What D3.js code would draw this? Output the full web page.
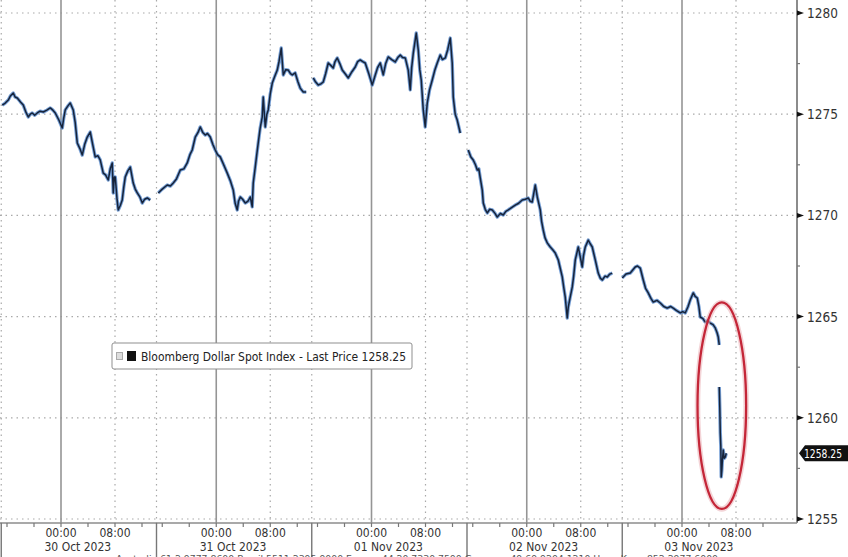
<!DOCTYPE html>
<html><head><meta charset="utf-8">
<script src="https://cdn.jsdelivr.net/npm/d3@7"></script>
<style>
html,body{margin:0;padding:0;background:#fff;}
svg{display:block;}
text{font-family:"Liberation Sans Narrow","DejaVu Sans Condensed","Arial Narrow",sans-serif;}
</style></head>
<body>
<svg id="chart" width="848" height="557"></svg>
<script>
// ---- DATA (x = trading hours since 30 Oct session start, 23h sessions; y = index level) ----
const s30Oct = [[0.30,1275.45],[0.74,1275.55],[1.19,1275.70],[1.5,1275.9],[1.93,1276.05],[2.2,1275.85],[2.52,1275.80],[3.0,1275.60],[3.41,1275.45],[3.8,1275.10],[4.15,1274.86],[4.45,1275.00],[4.74,1275.06],[5.1,1274.95],[5.48,1275.06],[5.9,1275.15],[6.37,1275.11],[6.9,1275.20],[7.41,1275.31],[7.8,1275.20],[8.15,1275.06],[8.7,1274.70],[9.19,1274.32],[9.4,1274.80],[9.63,1275.21],[10.0,1275.40],[10.37,1275.55],[10.81,1275.21],[11.1,1274.60],[11.41,1273.58],[11.8,1273.30],[12.15,1272.98],[12.5,1273.50],[12.89,1273.87],[13.33,1274.12],[13.7,1273.50],[14.07,1272.89],[14.45,1272.95],[14.81,1272.74],[15.26,1272.09],[15.6,1272.00],[16.00,1271.75],[16.3,1272.30],[16.59,1272.59],[16.74,1271.11],[16.9,1271.90],[17.04,1271.90],[17.3,1270.80],[17.48,1270.27],[17.8,1270.50],[18.07,1270.76],[18.3,1271.40],[18.52,1271.90],[18.9,1272.20],[19.26,1272.39],[19.70,1271.60],[20.0,1271.30],[20.30,1271.11],[20.7,1270.90],[21.04,1270.61],[21.4,1270.80],[21.78,1270.86],[22.22,1270.76]];
const s31Oct = [[23.41,1271.11],[24.0,1271.30],[24.74,1271.50],[25.2,1271.45],[25.63,1271.60],[26.1,1271.80],[26.67,1272.24],[27.2,1272.30],[27.70,1272.59],[28.1,1273.00],[28.44,1273.23],[28.89,1273.87],[29.3,1274.10],[29.63,1274.37],[30.0,1274.10],[30.37,1273.97],[30.7,1274.05],[31.11,1273.87],[31.5,1273.50],[31.85,1273.23],[32.2,1273.00],[32.59,1272.89],[33.1,1272.50],[33.63,1272.09],[34.1,1271.70],[34.52,1271.25],[34.8,1270.60],[35.11,1270.27],[35.3,1270.70],[35.56,1270.91],[35.9,1270.80],[36.30,1270.61],[36.7,1270.70],[37.04,1270.91],[37.33,1270.42],[37.48,1271.60],[37.78,1272.39],[38.0,1273.00],[38.22,1273.58],[38.5,1274.30],[38.81,1274.86],[38.96,1275.85],[39.26,1274.37],[39.5,1275.00],[39.70,1275.21],[40.0,1276.00],[40.30,1276.54],[40.7,1276.90],[41.04,1277.18],[41.3,1277.60],[41.63,1278.27],[41.93,1276.94],[42.3,1277.20],[42.67,1277.18],[43.0,1277.00],[43.26,1276.94],[43.70,1277.04],[44.1,1276.60],[44.44,1276.29],[44.89,1276.10],[45.33,1276.10]];
const s01Nov = [[46.37,1276.79],[46.7,1276.60],[47.11,1276.44],[47.5,1276.50],[47.85,1276.59],[48.2,1277.00],[48.59,1277.53],[49.0,1277.40],[49.33,1277.28],[49.6,1277.60],[49.93,1277.78],[50.3,1277.50],[50.67,1277.18],[51.1,1277.00],[51.56,1276.79],[52.1,1277.10],[52.59,1277.33],[52.95,1277.60],[53.33,1277.68],[53.7,1277.60],[54.07,1277.53],[54.6,1277.00],[55.11,1276.44],[55.56,1276.94],[55.9,1277.30],[56.30,1277.53],[56.74,1276.94],[57.1,1277.50],[57.48,1277.83],[58.0,1277.70],[58.52,1277.58],[58.9,1277.80],[59.26,1277.92],[59.6,1277.80],[60.00,1277.78],[60.44,1277.18],[60.74,1276.20],[60.95,1277.30],[61.19,1278.02],[61.63,1279.01],[61.93,1278.17],[62.15,1277.20],[62.37,1276.69],[62.67,1275.21],[62.96,1274.37],[63.26,1275.55],[63.6,1276.20],[64.00,1276.69],[64.4,1277.20],[64.74,1277.53],[65.19,1277.92],[65.5,1277.70],[65.93,1277.78],[66.3,1278.20],[66.67,1278.76],[66.96,1277.53],[67.11,1275.85],[67.4,1275.00],[67.70,1274.71],[68.15,1274.07]];
const s02Nov = [[69.33,1273.23],[69.7,1272.90],[70.07,1272.74],[70.4,1272.50],[70.67,1272.24],[70.9,1272.30],[71.11,1271.85],[71.41,1271.25],[71.56,1270.61],[71.85,1270.30],[72.15,1270.12],[72.5,1270.30],[72.89,1270.27],[73.3,1270.10],[73.63,1269.92],[74.1,1270.10],[74.52,1270.02],[74.9,1270.20],[75.26,1270.27],[75.8,1270.40],[76.30,1270.51],[76.8,1270.60],[77.33,1270.76],[77.8,1270.80],[78.22,1270.86],[78.5,1270.70],[78.81,1270.66],[79.26,1271.50],[79.56,1270.91],[80.00,1270.27],[80.2,1269.70],[80.44,1269.28],[80.7,1268.90],[81.04,1268.64],[81.48,1268.44],[81.85,1268.30],[82.22,1268.14],[82.67,1267.80],[82.95,1267.40],[83.26,1266.96],[83.5,1266.40],[83.70,1265.97],[84.00,1264.93],[84.15,1265.47],[84.4,1265.90],[84.74,1266.46],[84.95,1267.00],[85.19,1267.80],[85.63,1268.44],[85.9,1268.00],[86.22,1267.45],[86.4,1268.00],[86.67,1268.44],[87.11,1268.78],[87.4,1268.60],[87.70,1268.44],[88.15,1267.80],[88.59,1267.15],[88.9,1266.90],[89.19,1266.81],[89.6,1267.00],[89.93,1266.96],[90.3,1267.10],[90.67,1267.15]];
const s03NovPre = [[92.15,1266.91],[92.7,1267.10],[93.33,1267.15],[93.7,1267.30],[94.07,1267.45],[94.4,1267.50],[94.81,1267.40],[95.26,1266.81],[95.6,1266.40],[96.00,1266.17],[96.4,1265.90],[96.74,1265.72],[97.3,1265.80],[97.78,1265.67],[98.3,1265.50],[98.81,1265.42],[99.3,1265.50],[99.70,1265.42],[100.2,1265.30],[100.74,1265.18],[101.1,1265.25],[101.48,1265.18],[101.9,1265.50],[102.22,1265.82],[102.67,1266.17],[102.95,1266.00],[103.26,1265.92],[103.5,1265.50],[103.70,1264.98],[104.1,1264.90],[104.44,1264.73],[104.8,1264.80],[105.19,1264.68],[105.6,1264.60],[105.93,1264.44],[106.2,1264.20],[106.37,1263.99],[106.52,1263.60]];
const s03NovPost = [[106.52,1261.52],[106.6,1260.50],[106.67,1259.25],[106.75,1258.60],[106.81,1257.08],[106.9,1257.40],[106.96,1257.77],[107.11,1258.41],[107.25,1258.00],[107.41,1258.06],[107.56,1258.25]];

const dayLabels = ["30 Oct 2023","31 Oct 2023","01 Nov 2023","02 Nov 2023","03 Nov 2023"];
const sessionStarts = [0, 23, 46, 69, 92];
const sessionLength = 23;
const hourTickOffsets = [9, 17];          // hours into session
const hourTickLabels = ["00:00", "08:00"];
const yTicks = [1255, 1260, 1265, 1270, 1275, 1280];
const yMinorTicks = [1257.5, 1262.5, 1267.5, 1272.5, 1277.5];
const lastPrice = 1258.25;
const seriesName = "Bloomberg Dollar Spot Index - Last Price";
const highlight = {t: 106.9, v: 1260.6, dt: 3.6, dv: 5.1};
const footer = "Australia 61 2 9777 8600 Brazil 5511 2395 9000 Europe 44 20 7330 7500 Germany 49 69 9204 1210 Hong Kong 852 2977 6000";

// ---- LAYOUT ----
const svg = d3.select("#chart");
const axisX = 797, axisY = 523;
const x = d3.scaleLinear().domain([0, 118]).range([0.25, 796.75]);
const y = d3.scaleLinear().domain([1255, 1280]).range([519, 13]);

const grid = svg.append("g");
grid.selectAll("line.h").data(yTicks).join("line")
  .attr("x1", 0).attr("x2", axisX).attr("y1", d => y(d)).attr("y2", d => y(d))
  .attr("stroke", "#a9a9a9").attr("stroke-width", 1.2).attr("stroke-dasharray", "1.5,4");

const hourTicks = [];
sessionStarts.forEach((s, i) => hourTickOffsets.forEach((o, j) => hourTicks.push({t: s + o, label: hourTickLabels[j], solid: j === 0})));
grid.selectAll("line.v").data(hourTicks).join("line")
  .attr("x1", d => x(d.t)).attr("x2", d => x(d.t)).attr("y1", 0).attr("y2", axisY)
  .attr("stroke", d => d.solid ? "#959595" : "#a9a9a9")
  .attr("stroke-width", d => d.solid ? 1.6 : 1.2)
  .attr("stroke-dasharray", d => d.solid ? null : "1.5,4");
grid.selectAll("line.b").data(sessionStarts).join("line")
  .attr("x1", d => x(d) + 1).attr("x2", d => x(d) + 1).attr("y1", 0).attr("y2", axisY)
  .attr("stroke", "#a9a9a9").attr("stroke-width", 1.2).attr("stroke-dasharray", "1.5,4");

// series lines
const line = d3.line().x(d => x(d[0])).y(d => y(d[1]));
const segs = [s30Oct, s31Oct, s01Nov, s02Nov, s03NovPre, s03NovPost];
const lg = svg.append("g");
lg.selectAll("path.under").data(segs).join("path")
  .attr("d", line).attr("fill", "none").attr("stroke", "#5f8fcf").attr("stroke-width", 3.4)
  .attr("stroke-linejoin", "round").attr("opacity", 0.85);
lg.selectAll("path.over").data(segs).join("path")
  .attr("d", line).attr("fill", "none").attr("stroke", "#16233a").attr("stroke-width", 1.5)
  .attr("stroke-linejoin", "round");

// highlight ellipse
const ex = x(highlight.t), ey = y(highlight.v);
const erx = x(highlight.t + highlight.dt) - ex, ery = y(highlight.v - highlight.dv) - ey;
svg.append("ellipse").attr("cx", ex).attr("cy", ey).attr("rx", erx).attr("ry", ery)
  .attr("fill", "none").attr("stroke", "#eab0b6").attr("stroke-width", 5.5).attr("opacity", 0.55);
svg.append("ellipse").attr("cx", ex).attr("cy", ey).attr("rx", erx).attr("ry", ery)
  .attr("fill", "none").attr("stroke", "#c42638").attr("stroke-width", 2.3);

// axes lines
svg.append("line").attr("x1", axisX).attr("x2", axisX).attr("y1", 0).attr("y2", axisY)
  .attr("stroke", "#8c8c8c").attr("stroke-width", 2);
svg.append("line").attr("x1", 0).attr("x2", axisX).attr("y1", axisY).attr("y2", axisY)
  .attr("stroke", "#8c8c8c").attr("stroke-width", 1.6);

// y ticks & labels
const yt = svg.append("g");
yt.selectAll("path").data(yTicks).join("path")
  .attr("d", d => `M${axisX},${y(d) - 2.5}L${axisX + 7},${y(d)}L${axisX},${y(d) + 2.5}Z`)
  .attr("fill", "#111");
yt.selectAll("line").data(yMinorTicks).join("line")
  .attr("x1", axisX).attr("x2", axisX + 3).attr("y1", d => y(d)).attr("y2", d => y(d))
  .attr("stroke", "#777").attr("stroke-width", 1.2);
yt.selectAll("text").data(yTicks).join("text")
  .attr("x", 807).attr("y", d => y(d) + 5).attr("font-size", 13.5).attr("fill", "#333")
  .text(d => d);

// last price tag
const ly = y(lastPrice);
svg.append("path").attr("d", `M799,${ly}L805,${ly - 8}L850,${ly - 8}L850,${ly + 8}L805,${ly + 8}Z`).attr("fill", "#111");
svg.append("text").attr("x", 804).attr("y", ly + 4.3).attr("font-size", 11.5).attr("fill", "#fff")
  .attr("textLength", 38).attr("lengthAdjust", "spacingAndGlyphs")
  .text(d3.format(".2f")(lastPrice));

// x ticks
const minor = [];
sessionStarts.forEach(s => [1, 5, 9, 13, 17, 21].forEach(o => minor.push(s + o)));
svg.append("g").selectAll("line").data(minor).join("line")
  .attr("x1", d => x(d)).attr("x2", d => x(d)).attr("y1", axisY).attr("y2", axisY + 4)
  .attr("stroke", "#777").attr("stroke-width", 1.2);
svg.append("g").selectAll("line").data(sessionStarts).join("line")
  .attr("x1", d => x(d) + 1).attr("x2", d => x(d) + 1).attr("y1", axisY).attr("y2", 557)
  .attr("stroke", "#777").attr("stroke-width", 1.4);
svg.append("g").selectAll("text").data(hourTicks).join("text")
  .attr("x", d => x(d.t)).attr("y", 536.5).attr("text-anchor", "middle")
  .attr("font-size", 12).attr("fill", "#333").text(d => d.label);
svg.append("g").selectAll("text").data(dayLabels).join("text")
  .attr("x", (d, i) => x(sessionStarts[i] + sessionLength / 2)).attr("y", 551).attr("text-anchor", "middle")
  .attr("font-size", 12).attr("fill", "#333").text(d => d);

// legend
const leg = svg.append("g");
leg.append("rect").attr("x", 112).attr("y", 343).attr("width", 300).attr("height", 26).attr("rx", 2)
  .attr("fill", "#fff").attr("stroke", "#8f8f8f").attr("stroke-width", 1);
leg.append("rect").attr("x", 116.5).attr("y", 352.5).attr("width", 6).attr("height", 7)
  .attr("fill", "#ddd").attr("stroke", "#aaa").attr("stroke-width", 1);
leg.append("rect").attr("x", 127).attr("y", 351).attr("width", 9).attr("height", 10).attr("fill", "#111");
leg.append("text").attr("x", 141).attr("y", 361).attr("font-size", 13).attr("fill", "#222")
  .attr("textLength", 265).attr("lengthAdjust", "spacingAndGlyphs")
  .text(seriesName + " " + d3.format(".2f")(lastPrice));

// footer (mostly cut at the bottom edge, as in the original)
svg.append("text").attr("x", 116).attr("y", 562).attr("font-size", 9).attr("fill", "#555")
  .attr("textLength", 602).attr("lengthAdjust", "spacingAndGlyphs").text(footer);
</script>
</body></html>
